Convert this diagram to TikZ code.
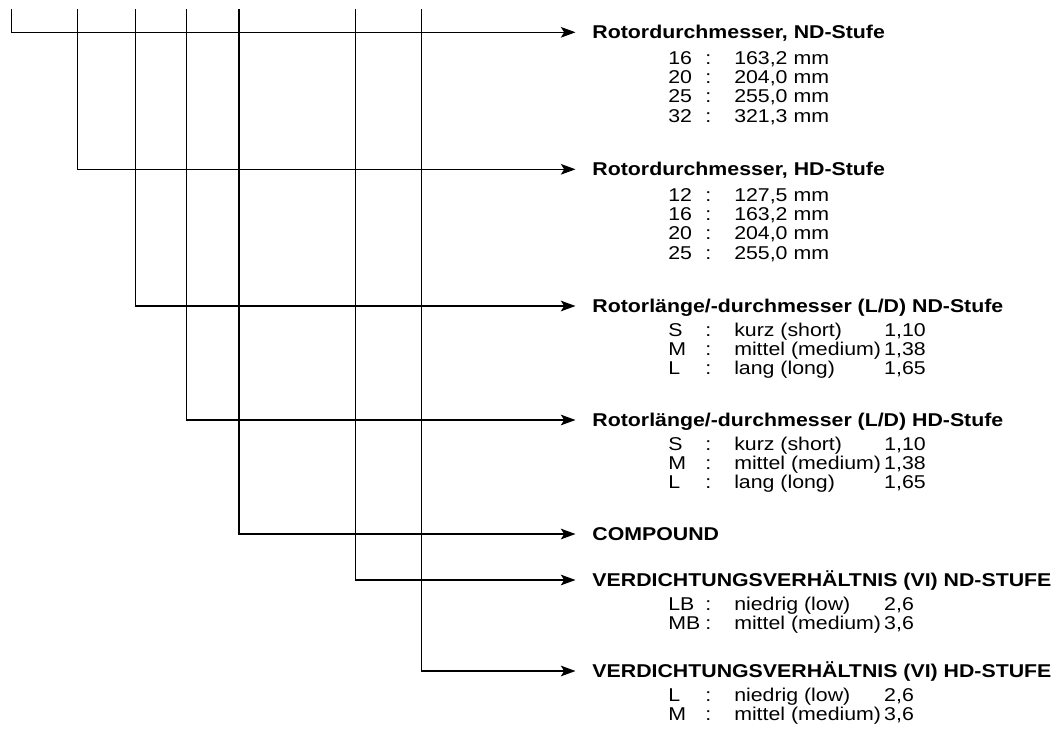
\documentclass[tikz,border=0pt]{standalone}
\usepackage{fontspec}
\setmainfont{Liberation Sans}[FakeStretch=1.15]
\usetikzlibrary{arrows.meta}
\newcommand\rw[3]{\makebox[25pt][l]{#1}\makebox[10pt][c]{:}\hspace{14.5pt}\makebox[112.5pt][l]{#2}#3}
\newcommand\rowtab[1]{\begin{tabular}[t]{@{}l@{}}#1\end{tabular}}
\begin{document}
\begin{tikzpicture}[x=0.75pt,y=-0.75pt,
  conn/.style={line width=0.85pt,-{Stealth[length=11pt,width=8pt,inset=2.5pt]}},
  hd/.style={anchor=west,inner xsep=12.5pt,inner ysep=0pt,text height=10pt,text depth=0pt,
    font=\fontsize{13.9}{14.5}\selectfont\bfseries},
  rows/.style={anchor=base west,inner sep=0pt,font=\fontsize{13.9}{14.5}\selectfont}]
\useasboundingbox (0,0) rectangle (1058,729);

% free top ends of the connectors
\coordinate (s1) at (11.7,9.3);
\coordinate (s2) at (77.3,9.3);
\coordinate (s3) at (135.3,9.3);
\coordinate (s4) at (186.7,9.3);
\coordinate (s5) at (239,9.3);
\coordinate (s6) at (355.3,9.3);
\coordinate (s7) at (421.3,9.3);

% headers
\node[hd] (h1) at (575.5,32.3) {Rotordurchmesser, ND-Stufe};
\node[hd] (h2) at (575.5,169.3) {Rotordurchmesser, HD-Stufe};
\node[hd] (h3) at (575.5,306) {Rotorlänge/-durchmesser (L/D) ND-Stufe};
\node[hd] (h4) at (575.5,420) {Rotorlänge/-durchmesser (L/D) HD-Stufe};
\node[hd] (h5) at (575.5,534) {COMPOUND};
\node[hd] (h6) at (575.5,580) {VERDICHTUNGSVERHÄLTNIS (VI) ND-STUFE};
\node[hd] (h7) at (575.5,671) {VERDICHTUNGSVERHÄLTNIS (VI) HD-STUFE};

% option rows
\node[rows] (r1) at (668,64) {\rowtab{\rw{16}{163,2 mm}{}\\\rw{20}{204,0 mm}{}\\\rw{25}{255,0 mm}{}\\\rw{32}{321,3 mm}{}}};
\node[rows] (r2) at (668,201) {\rowtab{\rw{12}{127,5 mm}{}\\\rw{16}{163,2 mm}{}\\\rw{20}{204,0 mm}{}\\\rw{25}{255,0 mm}{}}};
\node[rows] (r3) at (668,336) {\rowtab{\rw{S}{kurz (short)}{1,10}\\\rw{M}{mittel (medium)}{1,38}\\\rw{L}{lang (long)}{1,65}}};
\node[rows] (r4) at (668,450) {\rowtab{\rw{S}{kurz (short)}{1,10}\\\rw{M}{mittel (medium)}{1,38}\\\rw{L}{lang (long)}{1,65}}};
\node[rows] (r6) at (668,610) {\rowtab{\rw{LB}{niedrig (low)}{2,6}\\\rw{MB}{mittel (medium)}{3,6}}};
\node[rows] (r7) at (668,701) {\rowtab{\rw{L}{niedrig (low)}{2,6}\\\rw{M}{mittel (medium)}{3,6}}};

% connectors
\draw[conn] (s1) |- (h1.west);
\draw[conn] (s2) |- (h2.west);
\draw[conn] (s3) |- (h3.west);
\draw[conn] (s4) |- (h4.west);
\draw[conn] (s5) |- (h5.west);
\draw[conn] (s6) |- (h6.west);
\draw[conn] (s7) |- (h7.west);
\end{tikzpicture}
\end{document}
